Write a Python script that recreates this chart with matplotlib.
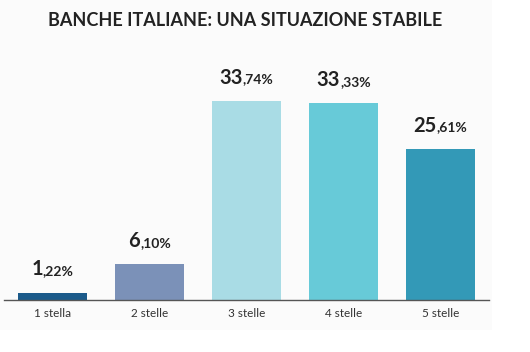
import matplotlib.pyplot as plt
from matplotlib.patches import Rectangle
from matplotlib.transforms import offset_copy

categories = ['1 stella', '2 stelle', '3 stelle', '4 stelle', '5 stelle']
values = [1.22, 6.10, 33.74, 33.33, 25.61]
int_parts = ['1', '6', '33', '33', '25']
dec_parts = [',22%', ',10%', ',74%', ',33%', ',61%']
colors = ['#1b5a8a', '#7b91b8', '#a9dce5', '#67cad8', '#3399b7']

plt.rcParams['font.family'] = ['Lato', 'DejaVu Sans']

fig = plt.figure(figsize=(5.3, 3.52), dpi=100)
fig.patch.set_facecolor('white')
# light panel behind the chart
fig.patches.append(Rectangle((0, 22 / 352), 492 / 530, 330 / 352,
                             transform=fig.transFigure, facecolor='#fbfbfb',
                             edgecolor='none', zorder=-10))

ax = fig.add_axes([4 / 530, 52 / 352, 485 / 530, 260 / 352])
ax.set_facecolor('none')
x = list(range(len(categories)))
ax.bar(x, values, width=0.72, color=colors)
ax.set_xlim(-0.5, 4.5)
ax.set_ylim(0, 260 / 5.9)

for s in ['top', 'right', 'left']:
    ax.spines[s].set_visible(False)
ax.spines['bottom'].set_color('#555555')
ax.spines['bottom'].set_linewidth(1)
ax.set_yticks([])
ax.set_xticks(x)
ax.set_xticklabels(categories, fontsize=8.5, color='#333333')
ax.tick_params(axis='x', length=0, pad=6)

renderer = fig.canvas.get_renderer()
for i, v in enumerate(values):
    # measure both parts so the pair is centred over the bar
    t1 = ax.text(0, 0, int_parts[i], fontsize=14.5, fontweight='bold')
    t2 = ax.text(0, 0, dec_parts[i], fontsize=10, fontweight='bold')
    w1 = t1.get_window_extent(renderer).width * 72 / fig.dpi
    w2 = t2.get_window_extent(renderer).width * 72 / fig.dpi
    t1.remove()
    t2.remove()
    shift = (w1 - w2) / 2
    tr = offset_copy(ax.transData, fig=fig, x=shift, y=12.5, units='points')
    ax.text(i, v, int_parts[i], transform=tr, ha='right', va='baseline',
            fontsize=14.5, fontweight='bold', color='#222222')
    ax.text(i, v, dec_parts[i], transform=tr, ha='left', va='baseline',
            fontsize=10, fontweight='bold', color='#222222')

fig.text(245 / 530, 1 - 21 / 352, 'BANCHE ITALIANE: UNA SITUAZIONE STABILE',
         ha='center', va='center', fontsize=13, fontweight='bold', color='#222222')

fig.savefig('out.png', dpi=100)
